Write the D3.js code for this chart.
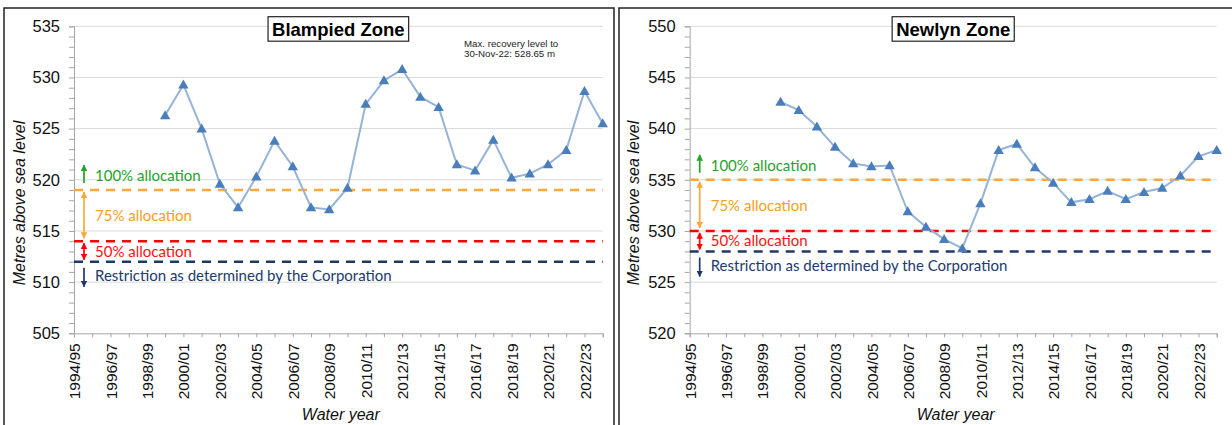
<!DOCTYPE html>
<html>
<head>
<meta charset="utf-8">
<script src="https://cdn.jsdelivr.net/npm/d3@7/dist/d3.min.js"></script>
<style>
  html, body { margin: 0; padding: 0; background: #fff; }
  svg { display: block; }
</style>
</head>
<body>
<svg id="chart" width="1232" height="425"></svg>
<script>
// ---------- DATA ----------
const years = ["1994/95","1995/96","1996/97","1997/98","1998/99","1999/00","2000/01","2001/02","2002/03","2003/04",
  "2004/05","2005/06","2006/07","2007/08","2008/09","2009/10","2010/11","2011/12","2012/13","2013/14",
  "2014/15","2015/16","2016/17","2017/18","2018/19","2019/20","2020/21","2021/22","2022/23","2023/24"];
const tickLabels = years.filter((d, i) => i % 2 === 0 && i < 29);

const blampiedLevels = [null, null, null, null, null, 526.3, 529.3, 525.0, 519.6, 517.3,
  520.3, 523.8, 521.3, 517.3, 517.1, 519.2, 527.4, 529.7, 530.8, 528.1,
  527.1, 521.5, 520.9, 523.9, 520.2, 520.6, 521.5, 522.9, 528.65, 525.5];
const newlynLevels = [null, null, null, null, null, 542.6, 541.8, 540.2, 538.2, 536.6,
  536.3, 536.4, 531.9, 530.4, 529.2, 528.3, 532.7, 537.9, 538.5, 536.2,
  534.7, 532.8, 533.1, 533.9, 533.1, 533.8, 534.2, 535.4, 537.3, 537.9];

const blampiedThresholds = [519, 514, 512];   // 75%, 50%, restriction
const newlynThresholds = [535, 530, 528];
const blampiedYDomain = [505, 535];
const newlynYDomain = [520, 550];
const yTicksBlampied = [505, 510, 515, 520, 525, 530, 535];
const yTicksNewlyn = [520, 525, 530, 535, 540, 545, 550];

const allocationLabels = ["100% allocation", "75% allocation", "50% allocation",
  "Restriction as determined by the Corporation"];
const titles = ["Blampied Zone", "Newlyn Zone"];
const noteLines = ["Max. recovery level to", "30-Nov-22: 528.65 m"];
const yAxisTitle = "Metres above sea level";
const xAxisTitle = "Water year";

// ---------- STYLE ----------
const C = {
  grid: "#d9d9d9", axis: "#a6a6a6", line: "#95b3d7", marker: "#4a7ebb",
  orange: "#f9a83a", red: "#ff0000", navy: "#1f3864", green: "#1fa32a",
  orangeText: "#f7a01c", redText: "#ff1010", navyText: "#203a6c"
};
const FONT = "Liberation Sans, Arial, sans-serif";

const svg = d3.select("#chart");
const defs = svg.append("defs");
function marker(id, color) {
  defs.append("marker").attr("id", id).attr("viewBox", "0 0 10 10")
    .attr("refX", 9).attr("refY", 5).attr("markerWidth", 6.5).attr("markerHeight", 6.5)
    .attr("orient", "auto-start-reverse").attr("markerUnits", "userSpaceOnUse")
    .append("path").attr("d", "M0,0 L10,5 L0,10 z").attr("fill", color);
}
marker("ag", C.green); marker("ao", C.orange); marker("ar", C.red); marker("an", C.navy);

// panel frames
svg.append("rect").attr("x", 4).attr("y", 8).attr("width", 610).attr("height", 440)
  .attr("fill", "none").attr("stroke", "#222").attr("stroke-width", 1.5);
svg.append("rect").attr("x", 619).attr("y", 8).attr("width", 640).attr("height", 440)
  .attr("fill", "none").attr("stroke", "#222").attr("stroke-width", 1.5);

function drawPanel(p) {
  const g = svg.append("g");
  const x = d3.scalePoint().domain(years).range(p.xRange);
  const y = d3.scaleLinear().domain(p.yDomain).range([333.3, 26.3]);
  const left = p.xRange[0], right = p.xRange[1];

  // gridlines
  g.append("g").selectAll("line").data(p.yTicks.slice(1)).join("line")
    .attr("x1", left).attr("x2", right).attr("y1", d => y(d)).attr("y2", d => y(d))
    .attr("stroke", C.grid).attr("stroke-width", 1);

  // y axis
  const minor = d3.range(p.yDomain[0], p.yDomain[1] + 0.5, 1);
  const ya = g.append("g").attr("transform", `translate(${left},0)`)
    .call(d3.axisLeft(y).tickValues(minor).tickSize(5).tickFormat(d => p.yTicks.includes(d) ? d : ""));
  ya.select(".domain").attr("stroke", C.axis);
  ya.selectAll(".tick line").attr("stroke", C.axis);
  ya.selectAll(".tick text").attr("font-family", FONT)
    .attr("font-size", 16.5).attr("fill", "#111").attr("x", -14);

  // x axis
  const xa = g.append("g").attr("transform", `translate(0,${y(p.yDomain[0])})`)
    .call(d3.axisBottom(x).tickSize(4).tickFormat(d => tickLabels.includes(d) ? d : ""));
  xa.select(".domain").attr("stroke", C.axis);
  xa.selectAll(".tick line").attr("stroke", C.axis);
  xa.selectAll(".tick text").attr("font-family", FONT)
    .attr("font-size", 15.5).attr("fill", "#111")
    .attr("transform", "rotate(-90)").attr("text-anchor", "end")
    .attr("x", -10).attr("y", 0).attr("dy", "0.36em");

  // threshold dashed lines
  const th = p.thresholds;
  const thColors = [C.orange, C.red, C.navy];
  g.append("g").selectAll("line").data(th).join("line")
    .attr("x1", left).attr("x2", right).attr("y1", d => y(d)).attr("y2", d => y(d))
    .attr("stroke", (d, i) => thColors[i]).attr("stroke-width", 2.5)
    .attr("stroke-dasharray", "9,7");

  // allocation arrows and labels
  const yo = y(th[0]), yr = y(th[1]), yn = y(th[2]);
  const ax = left + 10, tx = left + 21;
  const arrows = [
    { y1: yo - 7, y2: yo - 25, c: C.green, m: "ag", both: false },
    { y1: yo + 2, y2: yr - 3, c: C.orange, m: "ao", both: true },
    { y1: yr + 2, y2: yn - 2, c: C.red, m: "ar", both: true },
    { y1: yn + 6, y2: yn + 25, c: C.navy, m: "an", both: false }
  ];
  arrows.forEach(a => {
    const l = g.append("line").attr("x1", ax).attr("x2", ax).attr("y1", a.y1).attr("y2", a.y2)
      .attr("stroke", a.c).attr("stroke-width", 1.7).attr("marker-end", `url(#${a.m})`);
    if (a.both) l.attr("marker-start", `url(#${a.m})`);
  });
  const labelY = [yo - 14, (yo + yr) / 2, (yr + yn) / 2, yn + 14.5];
  const labelC = [C.green, C.orangeText, C.redText, C.navyText];
  g.append("g").selectAll("text").data(allocationLabels).join("text")
    .attr("x", tx).attr("y", (d, i) => labelY[i]).attr("dy", "0.35em")
    .attr("font-family", "Lato, sans-serif").attr("font-size", 15)
    .attr("fill", (d, i) => labelC[i]).text(d => d);

  // series line
  const pts = years.map((yr_, i) => ({ k: yr_, v: p.values[i] })).filter(d => d.v != null);
  g.append("path").datum(pts)
    .attr("d", d3.line().x(d => x(d.k)).y(d => y(d.v)))
    .attr("fill", "none").attr("stroke", C.line).attr("stroke-width", 2);
  g.append("g").selectAll("path").data(pts).join("path")
    .attr("transform", d => `translate(${x(d.k)},${y(d.v)})`)
    .attr("d", "M0,-5.2 L5.2,3.8 L-5.2,3.8 Z").attr("fill", C.marker);

  // title box
  const cx = (left + right) / 2;
  const tg = g.append("g");
  const tt = tg.append("text").attr("x", cx).attr("y", 35.5).attr("text-anchor", "middle")
    .attr("font-family", FONT).attr("font-weight", "bold")
    .attr("font-size", 18.5).attr("fill", "#000").text(p.title);
  const bb = tt.node().getBBox();
  tg.insert("rect", "text").attr("x", bb.x - 4).attr("y", 16.7)
    .attr("width", bb.width + 8).attr("height", 24.5)
    .attr("fill", "#fff").attr("stroke", "#222").attr("stroke-width", 1.2);

  // axis titles
  g.append("text").attr("transform", `translate(${p.yTitleX},${203}) rotate(-90)`)
    .attr("text-anchor", "middle").attr("font-family", FONT)
    .attr("font-style", "italic").attr("font-size", 16).attr("fill", "#111").text(yAxisTitle);
  g.append("text").attr("x", cx + 2.5).attr("y", 419.5).attr("text-anchor", "middle")
    .attr("font-family", FONT)
    .attr("font-style", "italic").attr("font-size", 16).attr("fill", "#111").text(xAxisTitle);

  if (p.note) {
    g.append("g").selectAll("text").data(p.note).join("text")
      .attr("x", 464).attr("y", (d, i) => 46.5 + i * 10.5)
      .attr("font-family", FONT).attr("font-size", 9.7)
      .attr("fill", "#222").text(d => d);
  }
}

drawPanel({ title: titles[0], values: blampiedLevels, thresholds: blampiedThresholds,
  yDomain: blampiedYDomain, yTicks: yTicksBlampied, xRange: [74, 602.7], yTitleX: 25, note: noteLines });
drawPanel({ title: titles[1], values: newlynLevels, thresholds: newlynThresholds,
  yDomain: newlynYDomain, yTicks: yTicksNewlyn, xRange: [689.7, 1216.7], yTitleX: 638.5, note: null });
</script>
</body>
</html>
